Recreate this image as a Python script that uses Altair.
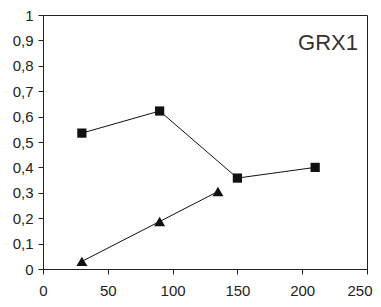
import altair as alt
import pandas as pd

sq_x = [30, 90, 150, 210]
sq_y = [0.535, 0.622, 0.358, 0.400]
tri_x = [30, 90, 135]
tri_y = [0.03, 0.187, 0.305]
x_ticks = [0, 50, 100, 150, 200, 250]
y_ticks = [0, 0.1, 0.2, 0.3, 0.4, 0.5, 0.6, 0.7, 0.8, 0.9, 1]
title_text = "GRX1"

df = pd.DataFrame({
    "x": sq_x + tri_x,
    "y": sq_y + tri_y,
    "s": ["sq"] * len(sq_x) + ["tri"] * len(tri_x),
})

font = "Liberation Sans"

xenc = alt.X("x:Q", scale=alt.Scale(domain=[0, 250], nice=False),
             axis=alt.Axis(values=x_ticks, title=None, grid=False,
                           tickSize=5, labelPadding=9, labelFontSize=15, labelFont=font,
                           labelColor="#222", domainColor="#222", tickColor="#222",
                           labelFlush=False,
                           labelAlign={"condition": {"test": "datum.value == 250", "value": "right"}, "value": "center"},
                           labelOffset={"condition": {"test": "datum.value == 250", "value": 5}, "value": 0}))
yenc = alt.Y("y:Q", scale=alt.Scale(domain=[0, 1], nice=False),
             axis=alt.Axis(values=y_ticks, title=None, grid=False,
                           tickSize=5, labelPadding=5, labelFontSize=15, labelFont=font,
                           labelColor="#222", domainColor="#222", tickColor="#222",
                           labelFlush=False,
                           labelExpr="replace(format(datum.value, '.1~f'), '.', ',')"))

base = alt.Chart(df)
lines = base.mark_line(color="#111", strokeWidth=1).encode(x=xenc, y=yenc, detail="s:N")
squares = base.transform_filter(alt.datum.s == "sq").mark_point(
    filled=True, opacity=1, color="#111", size=85, shape="square").encode(x=xenc, y=yenc)
triangles = base.transform_filter(alt.datum.s == "tri").mark_point(
    filled=True, opacity=1, color="#111", size=120, shape="triangle-up").encode(x=xenc, y=yenc)
label = alt.Chart(pd.DataFrame({"t": [title_text]})).mark_text(
    align="right", baseline="middle", fontSize=22, font=font, color="#333"
).encode(x=alt.value(315), y=alt.value(28), text="t:N")

chart = alt.layer(lines, squares, triangles, label).properties(
    width=324, height=254,
    autosize=alt.AutoSizeParams(type="none"),
    padding={"left": 35, "top": 7, "right": 6, "bottom": 30},
).configure_view(stroke="#222", strokeWidth=1)

chart.save("out.html", embed_options={"renderer": "svg", "actions": False})
